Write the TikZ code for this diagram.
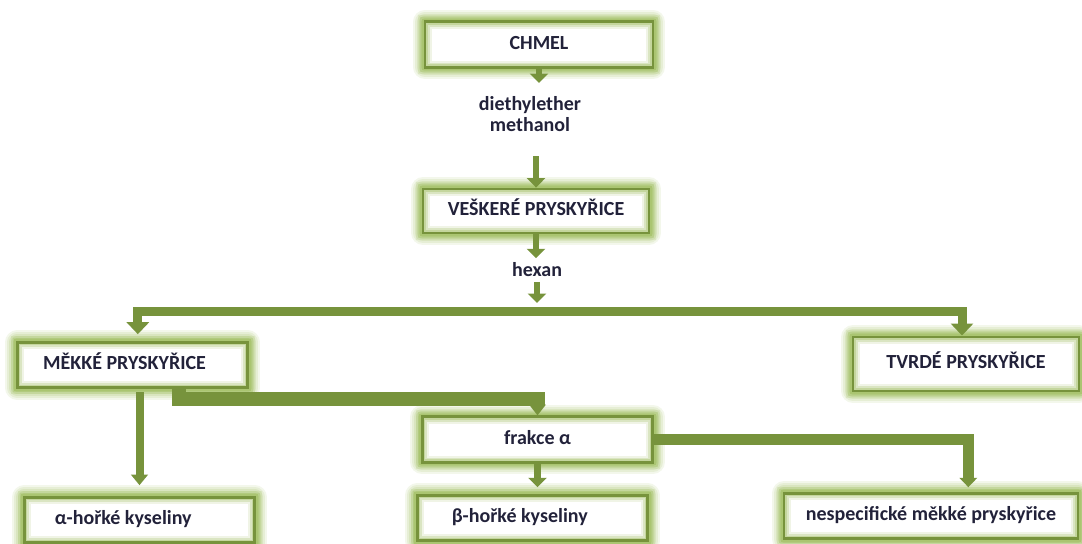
\documentclass[tikz,border=0pt]{standalone}
\usepackage{fontspec}
\setmainfont{Carlito}
\usepackage{tikz}
\usetikzlibrary{positioning}
\usetikzlibrary{arrows.meta}
\definecolor{hopgreen}{HTML}{77933C}
\definecolor{hopglow}{HTML}{9BBB59}
\definecolor{ink}{HTML}{22223A}
\tikzset{glowbox/.style={draw=hopgreen,line width=2.2pt,text=ink,font=\bfseries\fontsize{15}{16}\selectfont,
    minimum height=34pt,inner sep=0pt,text height=10pt,text depth=3pt,
    preaction={draw=hopglow,line join=round,line width=18pt,opacity=0.12},
    preaction={draw=hopglow,line join=round,line width=15pt,opacity=0.15},
    preaction={draw=hopglow,line join=round,line width=12pt,opacity=0.18},
    preaction={draw=hopglow,line join=round,line width=9pt,opacity=0.22},
    preaction={draw=hopglow,line join=round,line width=6pt,opacity=0.28},
    preaction={fill=white},
    preaction={draw=hopglow,line width=10pt,opacity=0.15},
    preaction={draw=hopglow,line width=7pt,opacity=0.25},
    preaction={draw=hopglow,line width=4.5pt,opacity=0.35}}}
\tikzset{reagent/.style={text=ink,font=\bfseries\fontsize{15}{16}\selectfont,align=center}}
\tikzset{flowarrow/.style={draw=hopgreen,line width=5pt,-{Triangle[width=13.5pt,length=7pt]}}}
\tikzset{downflow/.style={draw=hopgreen,line width=6pt,-{Triangle[width=12.5pt,length=8pt]}}}
\tikzset{sideflow/.style={draw=hopgreen,line width=8pt,-{Triangle[width=13pt,length=7pt]}}}
\tikzset{thickflow/.style={draw=hopgreen,line width=10.5pt,-{Triangle[width=12pt,length=8pt]}}}
\tikzset{splitbar/.style={draw=hopgreen,line width=6.75pt,{Triangle[width=16.5pt,length=9pt]}-{Triangle[width=16.5pt,length=9pt]}}}

\begin{document}
\begin{tikzpicture}[x=0.75pt,y=-0.75pt]
\useasboundingbox (0,0) rectangle (1082,543);
\clip (0,0) rectangle (1082,543);
\node[glowbox,minimum width=171pt] (chmel) at (539,44.5) {CHMEL};
\node[reagent,anchor=north,inner ysep=10pt] (solv) at (530,83) {diethylether\\methanol};
\node[glowbox,minimum width=169.5pt,minimum height=33pt] (vesk) at (536,211) {VEŠKERÉ PRYSKYŘICE};
\node[reagent] (hexan) at (537,270) {hexan};
\coordinate (fork) at (537,311.5);
\node[glowbox,align=flush left,text width=134pt,inner xsep=19.5pt] (mekke) at (132.5,365) {MĚKKÉ PRYSKYŘICE};
\node[glowbox,minimum width=169.5pt,minimum height=40.5pt] (tvrde) at (966,364) {TVRDÉ PRYSKYŘICE};
\node[glowbox,minimum width=173pt] (frakce) at (537.5,439.5) {frakce α};
\node[glowbox,align=flush left,text width=127pt,inner xsep=23pt] (alpha) at (139.5,520) {α-hořké kyseliny};
\node[glowbox,align=flush left,text width=121pt,inner xsep=26pt] (beta) at (532.5,518) {β-hořké kyseliny};
\node[glowbox,minimum width=220.5pt] (nespec) at (931,516) {nespecifické měkké pryskyřice};

\draw[flowarrow] (chmel.south) -- (chmel.south |- solv.north);
\draw[flowarrow,shorten <=8pt] (solv.south -| vesk.north) -- (vesk.north);
\draw[flowarrow] (vesk.south) -- (vesk.south |- hexan.north);
\draw[flowarrow,shorten >=6.4pt] (hexan.south) -- (hexan.south |- fork);
\draw[splitbar,shorten <=5pt] ([xshift=4pt]mekke.north) |- (fork) -| ([xshift=-3pt]tvrde.north);
\draw[thickflow] ([xshift=35pt]mekke.south) |- ([yshift=12pt]frakce.north) -- (frakce.north);
\draw[downflow,shorten <=2.5pt,shorten >=8pt] (mekke.south -| alpha.north) -- (alpha.north);
\draw[flowarrow,shorten >=5pt] (frakce.south) -- (frakce.south |- beta.north);
\draw[sideflow,shorten >=3.5pt] (frakce.east) -| ([xshift=28pt]nespec.north);
\end{tikzpicture}
\end{document}
